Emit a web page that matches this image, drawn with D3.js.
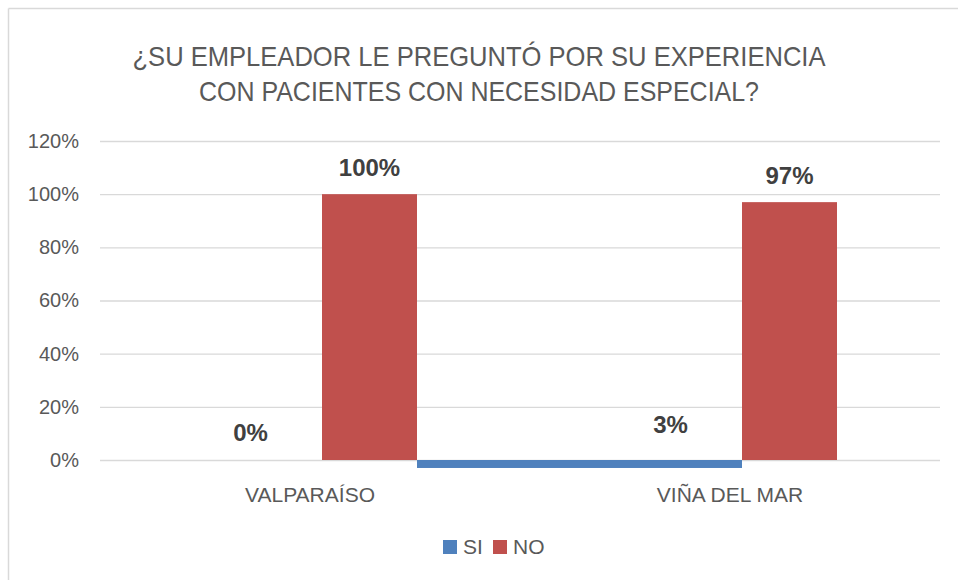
<!DOCTYPE html>
<html>
<head>
<meta charset="utf-8">
<script src="https://cdn.jsdelivr.net/npm/d3@7"></script>
<style>
  body { margin: 0; background: #fff; }
  svg { display: block; font-family: "Liberation Sans", Arial, sans-serif; }
</style>
</head>
<body>
<svg id="chart" width="958" height="580"></svg>
<script>
// data
let categories = ["VALPARAÍSO", "VIÑA DEL MAR"];
let seriesNames = ["SI", "NO"];
let siValues = [0, 0.03];
let noValues = [1.00, 0.97];
let yTicks = [0, 0.2, 0.4, 0.6, 0.8, 1.0, 1.2];
let titleLines = ["¿SU EMPLEADOR LE PREGUNTÓ POR SU EXPERIENCIA", "CON PACIENTES CON NECESIDAD ESPECIAL?"];

let colors = {SI: "#4F81BD", NO: "#C0504D"};

let svg = d3.select("#chart");

// chart frame (only top and left edges show)
svg.append("line").attr("x1", 8.5).attr("x2", 958).attr("y1", 8.5).attr("y2", 8.5)
  .attr("stroke", "#d9d9d9").attr("stroke-width", 1.5);
svg.append("line").attr("x1", 8.5).attr("x2", 8.5).attr("y1", 8.5).attr("y2", 580)
  .attr("stroke", "#d9d9d9").attr("stroke-width", 1.5);

let plotLeft = 100, plotRight = 940, plotTop = 141, plotBottom = 460;

let y = d3.scaleLinear().domain([0, 1.2]).range([plotBottom, plotTop]);
let x0 = d3.scaleBand().domain(categories).range([plotLeft, plotRight]);
let x1 = d3.scaleBand().domain(seriesNames).range([0, 190]);
let groupStart = c => x0(c) + x0.bandwidth() / 2 + 12 - 95;

// title (original font is a narrow one, so squeeze it to its width)
let titleWidths = [693, 560];
svg.append("g").selectAll("text")
  .data(titleLines)
  .enter()
  .append("text")
  .attr("x", (d, i) => 479 - titleWidths[i] / 2)
  .attr("y", (d, i) => 66 + i * 35)
  .attr("textLength", (d, i) => titleWidths[i])
  .attr("lengthAdjust", "spacingAndGlyphs")
  .attr("font-size", 28)
  .attr("fill", "#595959")
  .text(d => d);

// y axis + gridlines
let yAxis = d3.axisLeft(y)
  .tickValues(yTicks)
  .tickFormat(d3.format(".0%"))
  .tickSize(-(plotRight - plotLeft))
  .tickPadding(21);

let gy = svg.append("g")
  .attr("transform", "translate(" + plotLeft + ",0)")
  .call(yAxis);
gy.select(".domain").remove();
gy.selectAll(".tick line").attr("stroke", "#d9d9d9").attr("stroke-width", 1.3);
gy.selectAll(".tick text")
  .attr("font-size", 20)
  .attr("fill", "#595959")
  .attr("font-family", "Liberation Sans, Arial, sans-serif");

// NO bars
svg.append("g").selectAll("rect")
  .data(categories)
  .enter()
  .append("rect")
  .attr("x", (d) => groupStart(d) + x1("NO"))
  .attr("y", (d, i) => y(noValues[i]))
  .attr("width", x1.bandwidth())
  .attr("height", (d, i) => y(0) - y(noValues[i]))
  .attr("fill", colors.NO);

// SI bars (the picture shows them as a flat strip under the zero line,
// running between the two NO bars, as thick as the value)
let siStart = i => i === 0 ? plotLeft : groupStart(categories[i - 1]) + x1("NO") + x1.bandwidth();
svg.append("g").selectAll("rect")
  .data(categories)
  .enter()
  .append("rect")
  .attr("x", (d, i) => siStart(i))
  .attr("y", y(0))
  .attr("width", (d, i) => groupStart(d) + x1("NO") - siStart(i))
  .attr("height", (d, i) => y(0) - y(siValues[i]))
  .attr("fill", colors.SI);

// value labels
let fmt = d3.format(".0%");
svg.append("g").selectAll("text")
  .data(categories)
  .enter()
  .append("text")
  .attr("x", d => groupStart(d) + x1("NO") + x1.bandwidth() / 2)
  .attr("y", (d, i) => y(noValues[i]) - 18)
  .attr("text-anchor", "middle")
  .attr("font-size", 24)
  .attr("font-weight", "bold")
  .attr("fill", "#404040")
  .text((d, i) => fmt(noValues[i]));

svg.append("g").selectAll("text")
  .data(categories)
  .enter()
  .append("text")
  .attr("x", d => groupStart(d) + x1("SI") + x1.bandwidth() / 2 - 24)
  .attr("y", (d, i) => y(siValues[i]) - 19)
  .attr("text-anchor", "middle")
  .attr("font-size", 24)
  .attr("font-weight", "bold")
  .attr("fill", "#404040")
  .text((d, i) => fmt(siValues[i]));

// category labels
svg.append("g").selectAll("text")
  .data(categories)
  .enter()
  .append("text")
  .attr("x", d => x0(d) + x0.bandwidth() / 2)
  .attr("y", 502)
  .attr("text-anchor", "middle")
  .attr("font-size", 21)
  .attr("fill", "#595959")
  .text(d => d);

// legend
let legend = svg.append("g");
let legendX = [443, 493];
legend.selectAll("rect")
  .data(seriesNames)
  .enter()
  .append("rect")
  .attr("x", (d, i) => legendX[i])
  .attr("y", 540)
  .attr("width", 14)
  .attr("height", 14)
  .attr("fill", d => colors[d]);
legend.selectAll("text")
  .data(seriesNames)
  .enter()
  .append("text")
  .attr("x", (d, i) => legendX[i] + 20)
  .attr("y", 554)
  .attr("font-size", 21)
  .attr("fill", "#595959")
  .text(d => d);
</script>
</body>
</html>
